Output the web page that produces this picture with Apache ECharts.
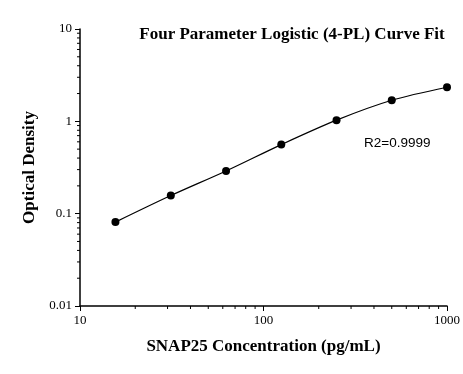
<!DOCTYPE html>
<html>
<head>
<meta charset="utf-8">
<script src="https://cdn.jsdelivr.net/npm/echarts@6/dist/echarts.min.js"></script>
<style>
html,body{margin:0;padding:0;background:#fff;}
#chart{width:463px;height:374px;}
</style>
</head>
<body>
<div id="chart"></div>
<script>
const concentrations = [15.6, 31.25, 62.5, 125, 250, 500, 1000];
const opticalDensity = [0.081, 0.157, 0.29, 0.56, 1.03, 1.69, 2.34];
const xMinorTickValues = [20, 30, 40, 50, 60, 70, 80, 90, 200, 300, 400, 500, 600, 700, 800, 900];
const yMinorTickValues = [0.02, 0.03, 0.04, 0.05, 0.06, 0.07, 0.08, 0.09,
                          0.2, 0.3, 0.4, 0.5, 0.6, 0.7, 0.8, 0.9,
                          2, 3, 4, 5, 6, 7, 8, 9];
const titleText = 'Four Parameter Logistic (4-PL) Curve Fit';
const xAxisTitle = 'SNAP25 Concentration (pg/mL)';
const yAxisTitle = 'Optical Density';
const r2Text = 'R2=0.9999';

const X_MIN = 10, X_MAX = 1000, Y_MIN = 0.01, Y_MAX = 10;

const serif = '"Liberation Serif", "DejaVu Serif", serif';
const sans = '"Liberation Sans", Arial, sans-serif';

const points = concentrations.map((c, i) => [c, opticalDensity[i]]);
const minorTickData = xMinorTickValues.map(v => ['x', v]).concat(yMinorTickValues.map(v => ['y', v]));

function renderMinorTick(params, api) {
  const d = minorTickData[params.dataIndex];
  let p, shape;
  if (d[0] === 'x') {
    p = api.coord([d[1], Y_MIN]);
    shape = {x1: p[0], y1: p[1], x2: p[0], y2: p[1] + 3};
  } else {
    p = api.coord([X_MIN, d[1]]);
    shape = {x1: p[0], y1: p[1], x2: p[0] - 3, y2: p[1]};
  }
  return {type: 'line', shape: shape, style: {stroke: '#000', lineWidth: 1}, silent: true};
}

const chart = echarts.init(document.getElementById('chart'), null, {renderer: 'canvas'});
chart.setOption({
  backgroundColor: '#fff',
  animation: false,
  title: {
    text: titleText,
    left: 287, top: 21, textAlign: 'center',
    textStyle: {fontFamily: serif, fontWeight: 'bold', fontSize: 17, color: '#000'}
  },
  grid: {left: 80, right: 15, top: 29, bottom: 68, containLabel: false},
  xAxis: {
    type: 'log', logBase: 10, min: X_MIN, max: X_MAX,
    name: xAxisTitle, nameLocation: 'middle', nameGap: 32,
    nameTextStyle: {fontFamily: serif, fontWeight: 'bold', fontSize: 17, color: '#000'},
    axisLine: {show: true, onZero: false, lineStyle: {color: '#000', width: 1.5}},
    axisTick: {show: true, inside: false, length: 5, lineStyle: {color: '#000', width: 1}},
    minorTick: {show: false},
    axisLabel: {fontFamily: serif, fontSize: 13, color: '#000', margin: 8,
                formatter: v => String(v)},
    splitLine: {show: false}
  },
  yAxis: {
    type: 'log', logBase: 10, min: Y_MIN, max: Y_MAX,
    name: yAxisTitle, nameLocation: 'middle', nameGap: 42, nameRotate: 90,
    nameTextStyle: {fontFamily: serif, fontWeight: 'bold', fontSize: 17, color: '#000'},
    axisLine: {show: true, onZero: false, lineStyle: {color: '#000', width: 1.5}},
    axisTick: {show: true, inside: false, length: 5, lineStyle: {color: '#000', width: 1}},
    minorTick: {show: false},
    axisLabel: {fontFamily: serif, fontSize: 13, color: '#000', margin: 8,
                formatter: v => String(v)},
    splitLine: {show: false}
  },
  series: [{
    type: 'custom',
    coordinateSystem: 'cartesian2d',
    clip: false,
    silent: true,
    data: minorTickData.map(d => d[0] === 'x' ? [d[1], Y_MIN] : [X_MIN, d[1]]),
    renderItem: renderMinorTick,
    z: 1
  }, {
    type: 'line',
    data: points,
    smooth: 0.3,
    symbol: 'circle', symbolSize: 8,
    itemStyle: {color: '#000'},
    lineStyle: {color: '#000', width: 1.2},
    z: 3
  }],
  graphic: [{
    type: 'text',
    left: 364, top: 136,
    style: {text: r2Text, fontFamily: sans, fontSize: 13.5, fill: '#000'}
  }]
});
</script>
</body>
</html>
